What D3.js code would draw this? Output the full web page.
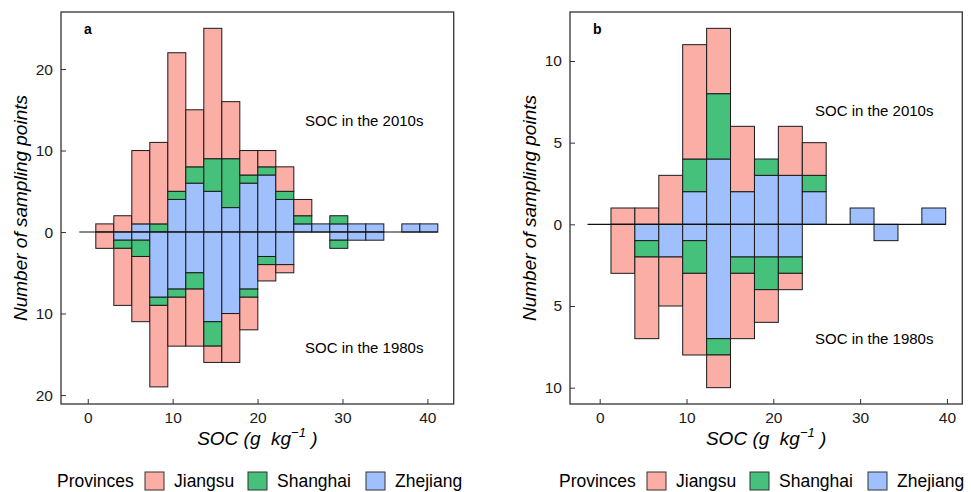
<!DOCTYPE html>
<html>
<head>
<meta charset="utf-8">
<script src="https://cdn.jsdelivr.net/npm/d3@7"></script>
<style>
  body { margin: 0; background: #fff; }
  text { font-family: "Liberation Sans", Arial, sans-serif; }
</style>
</head>
<body>
<script>
// provinces and fill colours
var provinces = ["Jiangsu", "Shanghai", "Zhejiang"];
var colors = { Jiangsu: "#fbaea6", Shanghai: "#45c17b", Zhejiang: "#9fc0fd" };

// panel a: bin edges (SOC, g/kg) and counts per bin
var edgesA = [0.95, 3.07, 5.19, 7.31, 9.43, 11.55, 13.67, 15.79, 17.91, 20.03,
              22.15, 24.27, 26.39, 28.51, 30.63, 32.75, 34.87, 36.99, 39.11, 41.23];
var jiangsu2010A  = [1, 2, 9, 10, 17, 7, 16, 7, 3, 2, 3, 2, 0, 0, 0, 0, 0, 0, 0];
var shanghai2010A = [0, 0, 0, 1, 1, 2, 4, 6, 1, 1, 1, 1, 0, 1, 0, 0, 0, 0, 0];
var zhejiang2010A = [0, 0, 1, 0, 4, 6, 5, 3, 6, 7, 4, 1, 1, 1, 1, 1, 0, 1, 1];
var jiangsu1980A  = [2, 7, 8, 10, 6, 7, 2, 6, 4, 2, 1, 0, 0, 0, 0, 0, 0, 0, 0];
var shanghai1980A = [0, 1, 2, 1, 1, 2, 3, 0, 1, 1, 0, 0, 0, 1, 0, 0, 0, 0, 0];
var zhejiang1980A = [0, 1, 1, 8, 7, 5, 11, 10, 7, 3, 4, 0, 0, 1, 1, 1, 0, 0, 0];
var yTicksA = [-20, -10, 0, 10, 20];

// panel b
var edgesB = [1.30, 4.05, 6.81, 9.56, 12.32, 15.07, 17.83, 20.58, 23.34, 26.09,
              28.85, 31.60, 34.36, 37.11, 39.86];
var jiangsu2010B  = [1, 1, 3, 7, 4, 4, 0, 3, 2, 0, 0, 0, 0, 0];
var shanghai2010B = [0, 0, 0, 2, 4, 0, 1, 0, 1, 0, 0, 0, 0, 0];
var zhejiang2010B = [0, 0, 0, 2, 4, 2, 3, 3, 2, 0, 1, 0, 0, 1];
var jiangsu1980B  = [3, 5, 3, 5, 2, 4, 2, 1, 0, 0, 0, 0, 0, 0];
var shanghai1980B = [0, 1, 0, 2, 1, 1, 2, 1, 0, 0, 0, 0, 0, 0];
var zhejiang1980B = [0, 1, 2, 1, 7, 2, 2, 2, 0, 0, 0, 1, 0, 0];
var yTicksB = [-10, -5, 0, 5, 10];

var xTicks = [0, 10, 20, 30, 40];

var svg = d3.select("body").append("svg")
  .attr("width", 971)
  .attr("height", 492);

function panel(opt) {
  var g = svg.append("g");
  var x = d3.scaleLinear().domain(opt.xDomain).range([opt.left, opt.right]);
  var y = d3.scaleLinear().domain(opt.yDomain).range([404, 12]);

  // build stacked rects: 2010s go up, 1980s go down
  var rects = [];
  function stack(series, sign) {
    var n = opt.edges.length - 1;
    for (var i = 0; i < n; i++) {
      var base = 0;
      provinces.slice().reverse().forEach(function(p) {
        var v = series[p][i];
        if (v > 0) {
          rects.push({ x0: opt.edges[i], x1: opt.edges[i + 1], y0: base * sign, y1: (base + v) * sign, p: p });
          base += v;
        }
      });
    }
  }
  stack(opt.up, 1);
  stack(opt.down, -1);

  g.selectAll("rect.bar").data(rects).enter().append("rect")
    .attr("class", "bar")
    .attr("x", function(d) { return x(d.x0); })
    .attr("width", function(d) { return x(d.x1) - x(d.x0); })
    .attr("y", function(d) { return y(Math.max(d.y0, d.y1)); })
    .attr("height", function(d) { return Math.abs(y(d.y0) - y(d.y1)); })
    .style("fill", function(d) { return colors[d.p]; })
    .style("stroke", "#1a1a1a")
    .style("stroke-width", 1);

  // zero line
  g.append("line")
    .attr("x1", x(opt.lineStart)).attr("x2", x(opt.edges[opt.edges.length - 1]))
    .attr("y1", y(0)).attr("y2", y(0))
    .style("stroke", "#111").style("stroke-width", 1.1);

  // panel border
  g.append("rect")
    .attr("x", opt.left).attr("y", 12)
    .attr("width", opt.right - opt.left).attr("height", 392)
    .style("fill", "none").style("stroke", "#333").style("stroke-width", 1.3);

  // ticks pointing inward, labels outside
  var yAxis = d3.axisLeft(y).tickValues(opt.yTicks).tickSizeInner(-5).tickSizeOuter(0)
    .tickPadding(8).tickFormat(function(d) { return Math.abs(d); });
  var ya = g.append("g").attr("transform", "translate(" + opt.left + ",0)").call(yAxis);
  var xAxis = d3.axisBottom(x).tickValues(xTicks).tickSizeInner(-5).tickSizeOuter(0).tickPadding(8);
  var xa = g.append("g").attr("transform", "translate(0,404)").call(xAxis);
  [ya, xa].forEach(function(a) {
    a.select(".domain").remove();
    a.selectAll(".tick line").style("stroke", "#333");
    a.selectAll(".tick text").style("font-size", "15.5px").style("fill", "#1a1a1a")
      .style("font-family", "'Liberation Sans', Arial, sans-serif");
  });

  // panel letter
  g.append("text").attr("x", opt.left + 23).attr("y", 34)
    .style("font-weight", "bold").style("font-size", "14px").text(opt.letter);

  // annotations
  g.append("text").attr("x", opt.annoX).attr("y", opt.annoTop)
    .style("font-size", "15px").text("SOC in the 2010s");
  g.append("text").attr("x", opt.annoX).attr("y", opt.annoBottom)
    .style("font-size", "15px").text("SOC in the 1980s");

  // axis titles
  g.append("text")
    .attr("transform", "translate(" + opt.yTitleX + ",208) rotate(-90)")
    .attr("text-anchor", "middle")
    .style("font-style", "italic").style("font-size", "19px")
    .text("Number of sampling points");

  var xt = g.append("text")
    .attr("x", (opt.left + opt.right) / 2).attr("y", 445)
    .attr("text-anchor", "middle")
    .style("font-style", "italic").style("font-size", "19px");
  xt.append("tspan").text("SOC (g\u00a0\u00a0kg");
  xt.append("tspan").attr("dy", -8).style("font-size", "13px").text("\u22121");
  xt.append("tspan").attr("dy", 8).text("\u00a0)");

  // legend
  var lg = g.append("g").attr("transform", "translate(" + opt.legendX + ",0)");
  lg.append("text").attr("x", 0).attr("y", 487).style("font-size", "17.5px").text("Provinces");
  var offs = [88, 191, 309];
  provinces.forEach(function(p, i) {
    lg.append("rect").attr("x", offs[i]).attr("y", 472).attr("width", 19).attr("height", 18)
      .style("fill", colors[p]).style("stroke", "#333").style("stroke-width", 1);
    lg.append("text").attr("x", offs[i] + 29).attr("y", 487).style("font-size", "17.5px").text(p);
  });
}

panel({
  letter: "a", left: 61, right: 453.7,
  xDomain: [-3.15, 43.1], yDomain: [-21.1, 27.0],
  edges: edgesA, yTicks: yTicksA, lineStart: -1.0,
  up: { Jiangsu: jiangsu2010A, Shanghai: shanghai2010A, Zhejiang: zhejiang2010A },
  down: { Jiangsu: jiangsu1980A, Shanghai: shanghai1980A, Zhejiang: zhejiang1980A },
  annoX: 305, annoTop: 126, annoBottom: 353,
  yTitleX: 27, legendX: 57
});

panel({
  letter: "b", left: 570, right: 962.3,
  xDomain: [-3.42, 41.77], yDomain: [-11.0, 13.0],
  edges: edgesB, yTicks: yTicksB, lineStart: -1.4,
  up: { Jiangsu: jiangsu2010B, Shanghai: shanghai2010B, Zhejiang: zhejiang2010B },
  down: { Jiangsu: jiangsu1980B, Shanghai: shanghai1980B, Zhejiang: zhejiang1980B },
  annoX: 815, annoTop: 116, annoBottom: 344,
  yTitleX: 536, legendX: 559
});
</script>
</body>
</html>
